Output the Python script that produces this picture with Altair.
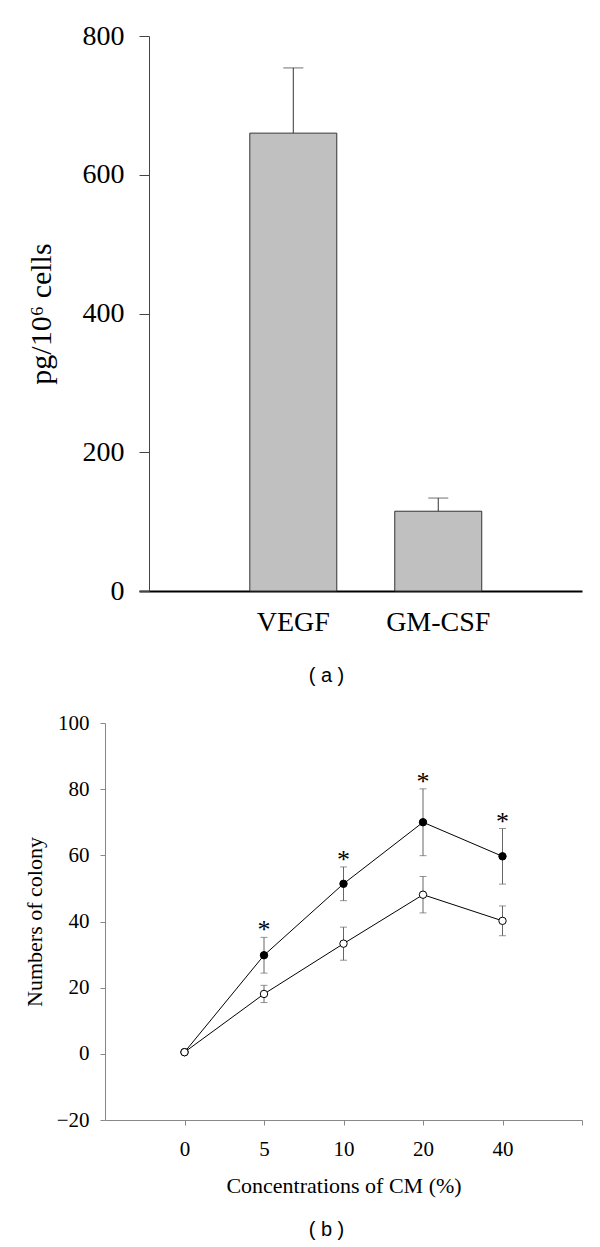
import altair as alt
import pandas as pd

# ---------- Panel (a): secretion ----------
cytokines = ["VEGF", "GM-CSF"]
secretion = [660, 115]
secretion_err = [94, 19]

# ---------- Panel (b): colony numbers ----------
conc_labels = ["0", "5", "10", "20", "40"]
cm_mean = [0.5, 29.8, 51.4, 70.0, 59.7]
cm_err = [0.0, 5.4, 5.1, 10.1, 8.4]
ctrl_mean = [0.5, 18.1, 33.3, 48.1, 40.2]
ctrl_err = [0.0, 2.6, 5.0, 5.5, 4.5]
cm_significant = [False, True, True, True, True]

SERIF = "Liberation Serif"
SANS = "Liberation Sans"

# ---------------- top chart ----------------
df_a = pd.DataFrame({"cat": cytokines, "mean": secretion, "err": secretion_err})
df_a["hi"] = df_a["mean"] + df_a["err"]

xa_scale = alt.Scale(paddingInner=0.4, paddingOuter=0.728, align=0.525)
xa = alt.X("cat:N", sort=cytokines, scale=xa_scale,
           axis=alt.Axis(title=None, ticks=False, tickSize=0, labelFont=SERIF,
                         labelFontSize=28, labelColor="black", labelPadding=17,
                         labelAngle=0, domainColor="black", domainWidth=2))
ya = alt.Y("mean:Q", scale=alt.Scale(domain=[0, 800], nice=False),
           axis=alt.Axis(values=[0, 200, 400, 600, 800], title="pg/10⁶ cells",
                         titleFont=SERIF, titleFontSize=30, titleFontWeight="normal",
                         titleColor="black", titlePadding=26, labelFont=SERIF,
                         labelFontSize=28, labelColor="black", labelPadding=15,
                         tickSize=10, tickColor="#444", domainColor="#444",
                         offset=-10, grid=False))

base_a = alt.Chart(df_a)
bars = base_a.mark_bar(fill="#c0c0c0", stroke="#333", strokeWidth=1).encode(x=xa, y=ya)
stem = base_a.mark_rule(color="#333", strokeWidth=1).encode(
    x=alt.X("cat:N", sort=cytokines), y="hi:Q", y2="mean:Q")
cap = base_a.mark_tick(color="#333", size=20, thickness=1, orient="horizontal").encode(
    x=alt.X("cat:N", sort=cytokines), y="hi:Q")

top = alt.layer(bars, stem, cap).properties(
    width=443, height=555,
    title=alt.TitleParams("( a )", orient="bottom", frame="group", font=SANS,
                          fontSize=20, fontWeight="normal", color="black",
                          dx=-34, offset=30))

spacer = alt.Chart(pd.DataFrame({"s": [0]})).mark_point(opacity=0).properties(width=34, height=1)
top_row = alt.hconcat(spacer, top, spacing=0, bounds="flush")

# ---------------- bottom chart ----------------
rows = []
for i in range(len(conc_labels)):
    rows.append({"idx": i, "series": "CM", "mean": cm_mean[i], "err": cm_err[i],
                 "sig": cm_significant[i]})
for i in range(len(conc_labels)):
    rows.append({"idx": i, "series": "Control", "mean": ctrl_mean[i], "err": ctrl_err[i],
                 "sig": False})
df_b = pd.DataFrame(rows)
df_b["lo"] = df_b["mean"] - df_b["err"]
df_b["hi"] = df_b["mean"] + df_b["err"]
df_b["order"] = range(len(df_b))

label_js = "[" + ",".join("'" + s + "'" for s in conc_labels) + "][datum.value] || ''"

xb = alt.X("idx:Q", scale=alt.Scale(domain=[-1, 5], nice=False, zero=False),
           axis=alt.Axis(values=[0, 1, 2, 3, 4, 5], labelExpr=label_js,
                         title="Concentrations of CM (%)", titleFont=SERIF,
                         titleFontSize=22, titleFontWeight="normal", titleColor="black",
                         titlePadding=16, labelFont=SERIF, labelFontSize=21,
                         labelColor="black", labelPadding=13, tickSize=5,
                         tickColor="#888", domainColor="#888", grid=False))
yb = alt.Y("mean:Q", scale=alt.Scale(domain=[-20, 100], nice=False, zero=False),
           axis=alt.Axis(values=[-20, 0, 20, 40, 60, 80, 100], title="Numbers of colony",
                         titleFont=SERIF, titleFontSize=22, titleFontWeight="normal",
                         titleColor="black", titlePadding=10, labelFont=SERIF,
                         labelFontSize=21, labelColor="black", labelPadding=11,
                         tickSize=5, tickColor="#888", domainColor="#888", grid=False))

base_b = alt.Chart(df_b)
with_err = base_b.transform_filter("datum.err > 0")
ebar = with_err.mark_rule(color="#666", strokeWidth=1).encode(x=xb, y=yb, y2="hi:Q")
ebar_lo = with_err.mark_rule(color="#666", strokeWidth=1).encode(x=xb, y="lo:Q", y2="mean:Q")
cap_hi = with_err.mark_tick(color="#666", size=7, thickness=1, orient="horizontal").encode(
    x=xb, y="hi:Q")
cap_lo = with_err.mark_tick(color="#666", size=7, thickness=1, orient="horizontal").encode(
    x=xb, y="lo:Q")
lines = base_b.mark_line(color="black", strokeWidth=1).encode(
    x=xb, y=yb, detail="series:N", order="idx:Q")
pts = base_b.mark_point(filled=True, size=55, stroke="black", strokeWidth=1,
                        opacity=1, fillOpacity=1).encode(
    x=xb, y=yb,
    fill=alt.Fill("series:N", scale=alt.Scale(domain=["CM", "Control"], range=["black", "white"]),
                  legend=None),
    order="order:Q")
stars = base_b.transform_filter("datum.sig").mark_text(
    text="*", font=SERIF, fontSize=26, baseline="alphabetic", dy=1, fill="black").encode(
    x=xb, y="hi:Q")

bottom = alt.layer(ebar, ebar_lo, cap_hi, cap_lo, lines, pts, stars).properties(
    width=477, height=397,
    title=alt.TitleParams("( b )", orient="bottom", frame="group", font=SANS,
                          fontSize=20, fontWeight="normal", color="black",
                          dx=-17, offset=24))

chart = alt.vconcat(top_row, bottom, spacing=26).properties(
    padding={"left": 15, "top": 14, "right": 5, "bottom": 5}
).configure_view(stroke=None).configure_axis(grid=False)

chart.save("out.html", embed_options={"renderer": "svg", "actions": False})
